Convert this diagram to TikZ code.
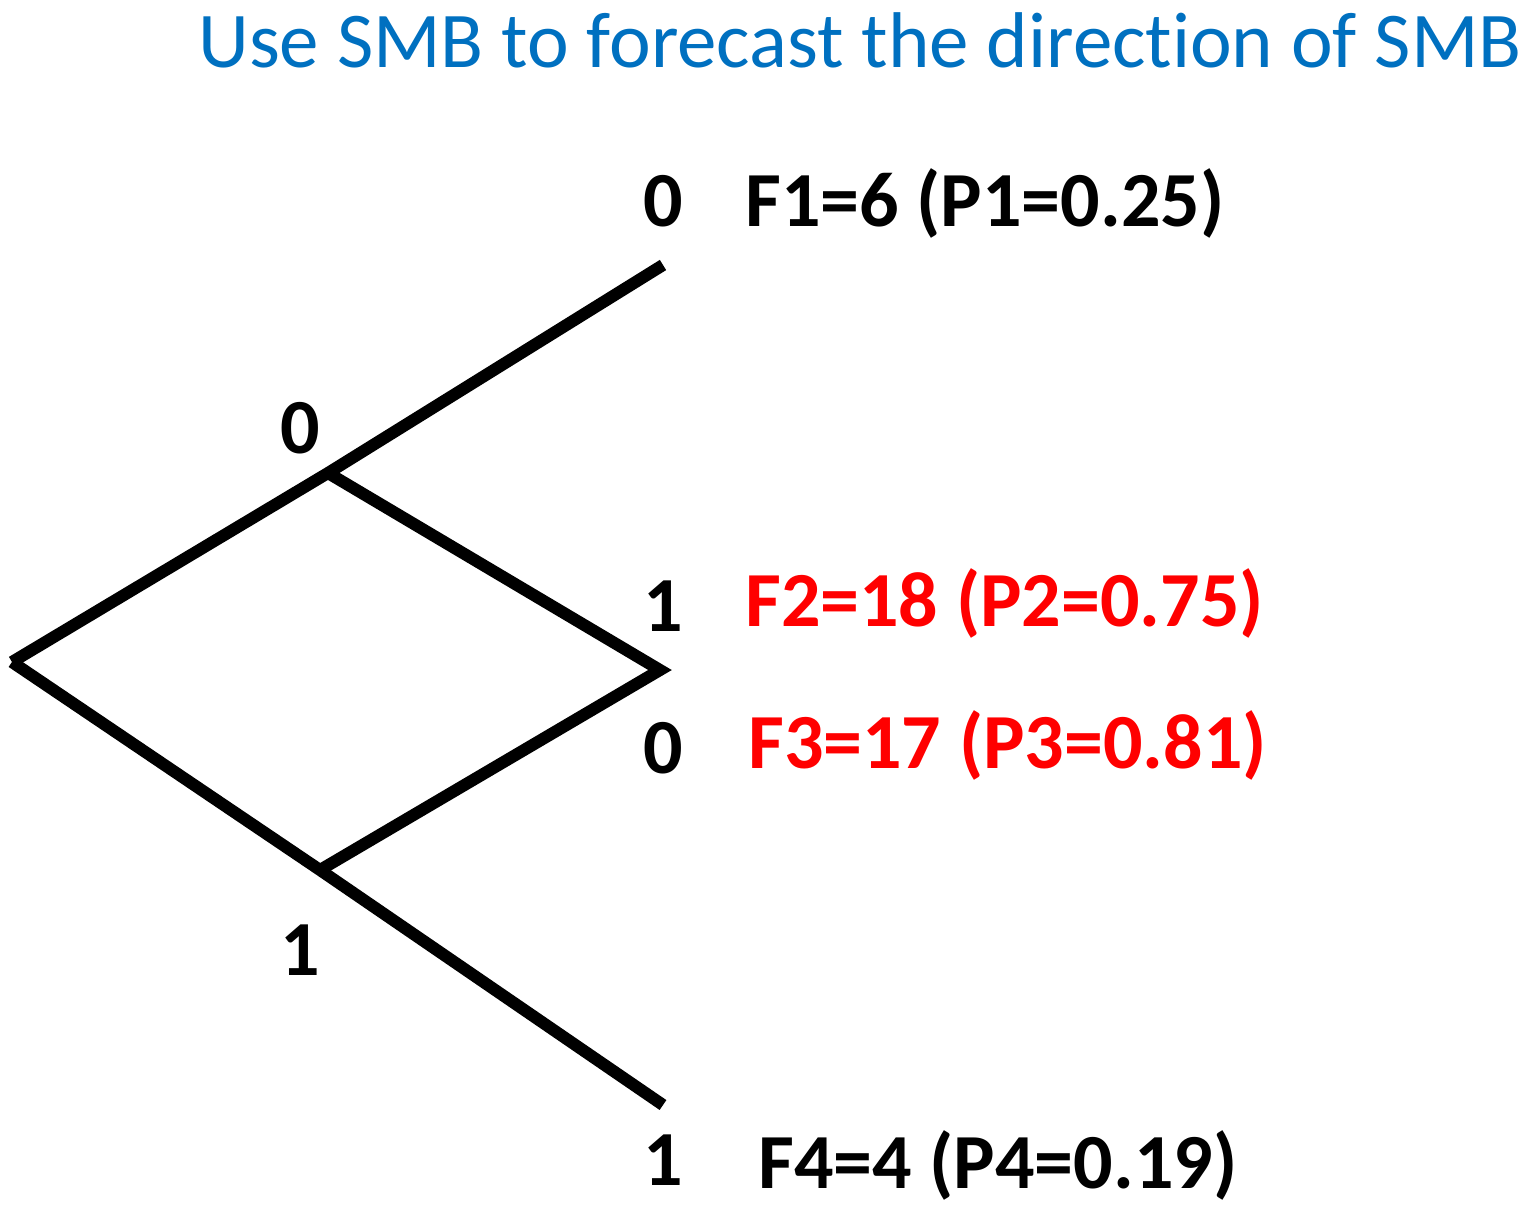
\documentclass[tikz,border=0pt]{standalone}
\usepackage{fontspec}
\setmainfont{Carlito}[Ligatures=NoCommon]
\definecolor{titleblue}{RGB}{0,112,192}
\definecolor{lblred}{RGB}{255,0,0}
\begin{document}
\begin{tikzpicture}[x=1pt,y=-1pt,
  branch/.style={line width=12pt,black},
  lbl/.style={inner sep=0pt,font=\fontsize{78}{90}\selectfont\bfseries},
  bit/.style={lbl,anchor=center}]
\useasboundingbox (0,0) rectangle (1535,1226);
\node[inner sep=0pt,anchor=east,text=titleblue,font=\fontsize{79}{90}\selectfont] (title) at (1522,40) {Use SMB to forecast the direction of SMB};
\coordinate (root) at (12,662);
\coordinate (up) at (328,473);
\coordinate (upend) at (663,265);
\coordinate (mid) at (660,670);
\coordinate (low) at (320,870);
\coordinate (lowend) at (663,1105);
\draw[branch] (root) -- (up) -- (upend);
\draw[branch] (up) -- (mid) -- (low);
\draw[branch] (root) -- (low) -- (lowend);
\node[bit] (b1) at (300,428) {0};
\node[bit] (b2) at (300,950) {1};
\node[bit] (b3) at (663,201) {0};
\node[bit] (b4) at (663,606) {1};
\node[bit] (b5) at (663,748) {0};
\node[bit] (b6) at (663,1160) {1};
\node[lbl,anchor=west] (f1) at (745,203) {F1=6 (P1=0.25)};
\node[lbl,anchor=west,text=lblred] (f2) at (745,603) {F2=18 (P2=0.75)};
\node[lbl,anchor=west,text=lblred] (f3) at (748,745) {F3=17 (P3=0.81)};
\node[lbl,anchor=west] (f4) at (758,1165) {F4=4 (P4=0.19)};
\end{tikzpicture}
\end{document}
